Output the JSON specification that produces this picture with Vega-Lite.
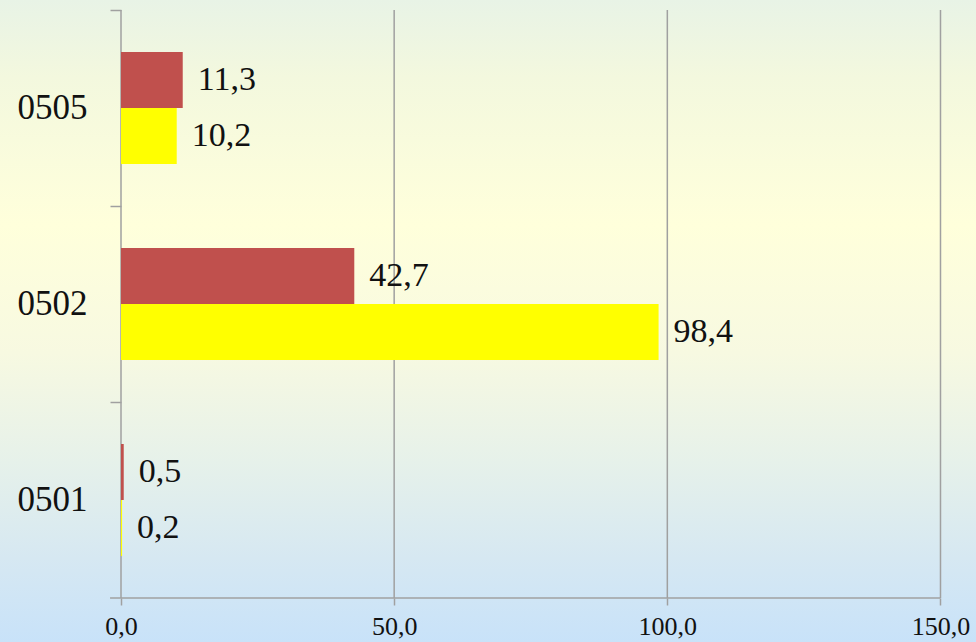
{
  "$schema": "https://vega.github.io/schema/vega-lite/v6.json",
  "width": 976,
  "height": 642,
  "autosize": {"type": "none"},
  "padding": 0,
  "background": "#F4F8E2",
  "config": {
    "font": "Liberation Serif",
    "locale": {"number": {"decimal": ",", "thousands": " ", "grouping": [3], "currency": ["", ""]}},
    "view": {
      "stroke": null,
      "fill": {
        "gradient": "linear", "x1": 0, "y1": 0, "x2": 0, "y2": 1,
        "stops": [
          {"offset": 0, "color": "#E8F3E6"},
          {"offset": 0.12, "color": "#F3F8DE"},
          {"offset": 0.35, "color": "#FFFFDB"},
          {"offset": 0.55, "color": "#F7F9E1"},
          {"offset": 0.72, "color": "#E6F1EA"},
          {"offset": 0.87, "color": "#D6E8F2"},
          {"offset": 1, "color": "#C8E2F9"}
        ]
      }
    }
  },
  "datasets": {
    "bars": [
      {"code": "0505", "series": "A", "value": 11.3},
      {"code": "0505", "series": "B", "value": 10.2},
      {"code": "0502", "series": "A", "value": 42.7},
      {"code": "0502", "series": "B", "value": 98.4},
      {"code": "0501", "series": "A", "value": 0.5},
      {"code": "0501", "series": "B", "value": 0.2}
    ],
    "grid": [{"v": 0}, {"v": 50}, {"v": 100}, {"v": 150}]
  },
  "layer": [
    {
      "data": {"name": "grid"},
      "mark": {"type": "rule", "color": "#A0A0A0", "strokeWidth": 1.5},
      "encoding": {
        "x": {"field": "v", "type": "quantitative", "scale": {"domain": [-22.148, 156.5], "nice": false, "zero": false}},
        "y": {"datum": "0505", "type": "nominal", "bandPosition": -0.375},
        "y2": {"datum": "0501", "bandPosition": 1.375}
      }
    },
    {
      "data": {"values": [{"a": 1}]},
      "mark": {"type": "rule", "color": "#A0A0A0", "strokeWidth": 1.5},
      "encoding": {
        "x": {"datum": -2.0, "type": "quantitative", "scale": {"domain": [-22.148, 156.5], "nice": false, "zero": false}},
        "x2": {"datum": 150},
        "y": {"datum": "0501", "type": "nominal", "bandPosition": 1.375}
      }
    },
    {
      "data": {"name": "bars"},
      "mark": {"type": "bar"},
      "encoding": {
        "x": {
          "field": "value", "type": "quantitative",
          "scale": {"domain": [-22.148, 156.5], "nice": false, "zero": false},
          "axis": {
            "orient": "bottom", "offset": -44, "values": [0, 50, 100, 150], "format": ".1f",
            "grid": false, "domain": false, "tickSize": 7, "tickColor": "#A0A0A0", "tickWidth": 1.5,
            "labelFontSize": 26, "labelColor": "#111111", "labelPadding": 8, "labelFont": "Liberation Serif",
            "title": null
          }
        },
        "x2": {"datum": 0},
        "y": {
          "field": "code", "type": "nominal",
          "scale": {"domain": ["0505", "0502", "0501"], "paddingInner": 0.4286, "paddingOuter": 0.35204, "align": 0.37681, "round": false},
          "axis": {
            "orient": "left", "offset": -121, "bandPosition": -0.375, "grid": false, "domain": false,
            "tickSize": 11, "tickColor": "#A0A0A0", "tickWidth": 1.5,
            "labelFontSize": 35, "labelColor": "#111111", "labelPadding": 23, "labelFont": "Liberation Serif",
            "title": null
          }
        },
        "yOffset": {"field": "series", "type": "nominal", "sort": ["A", "B"]},
        "color": {"field": "series", "type": "nominal", "scale": {"domain": ["A", "B"], "range": ["#C0504D", "#FFFF00"]}, "legend": null}
      }
    },
    {
      "data": {"name": "bars"},
      "mark": {"type": "text", "align": "left", "baseline": "middle", "dx": 15, "fontSize": 34, "color": "#111111", "font": "Liberation Serif"},
      "encoding": {
        "x": {"field": "value", "type": "quantitative", "scale": {"domain": [-22.148, 156.5], "nice": false, "zero": false}},
        "y": {"field": "code", "type": "nominal"},
        "yOffset": {"field": "series", "type": "nominal", "sort": ["A", "B"]},
        "text": {"field": "value", "type": "quantitative", "format": ".1f"}
      }
    }
  ]
}
